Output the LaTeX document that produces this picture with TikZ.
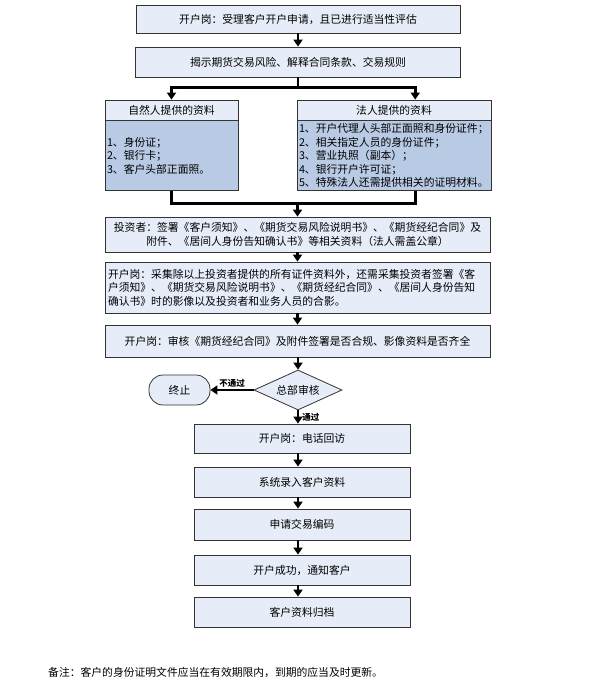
\documentclass[tikz,border=0pt]{standalone}
\usepackage{fontspec}
\setmainfont{Noto Sans CJK SC}
\usetikzlibrary{arrows.meta,shapes.geometric,calc}
\definecolor{boxfill}{HTML}{E6EDF8}
\definecolor{listfill}{HTML}{B9CBE4}
\definecolor{boxline}{HTML}{333333}
\tikzset{
  stepbox/.style={draw=boxline, fill=boxfill, line width=0.8pt, inner sep=2pt},
  listbox/.style={draw=boxline, fill=listfill, line width=0.8pt, inner sep=2pt, align=left},
  flow/.style={line width=2.6pt, -{Triangle[width=9pt,length=7pt]}},
  joinline/.style={line width=2.6pt},
  passlabel/.style={font=\fontsize{8.5}{9}\selectfont\bfseries, inner sep=1pt},
}
\begin{document}
\begin{tikzpicture}[x=1pt, y=-1pt, every node/.style={font=\fontsize{10.8}{13.5}\selectfont}]
\useasboundingbox (0,0) rectangle (591,683);

% upper part
\node[stepbox, minimum width=324pt, minimum height=28pt] (accept) at (298,19) {开户岗：受理客户开户申请，且已进行适当性评估};
\node[stepbox, minimum width=325pt, minimum height=30pt] (reveal) at (298,62) {揭示期货交易风险、解释合同条款、交易规则};

\node[stepbox, minimum width=133pt, minimum height=20pt] (natHead) at (171.5,110) {自然人提供的资料};
\node[listbox, text width=129pt, minimum height=70pt, anchor=north] (natBody) at (natHead.south) {1、身份证；\\2、银行卡；\\3、客户头部正面照。};
\node[stepbox, minimum width=194pt, minimum height=20pt] (legHead) at (394,110) {法人提供的资料};
\node[listbox, text width=190pt, minimum height=70pt, anchor=north] (legBody) at (legHead.south) {1、开户代理人头部正面照和身份证件；\\2、相关指定人员的身份证件；\\3、营业执照（副本）；\\4、银行开户许可证；\\5、特殊法人还需提供相关的证明材料。};

\node[stepbox, minimum width=385pt, minimum height=35pt, align=center] (sign) at (297.5,234.5) {投资者：签署《客户须知》、《期货交易风险说明书》、《期货经纪合同》及\\附件、《居间人身份告知确认书》等相关资料（法人需盖公章）};
\node[stepbox, minimum width=385pt, minimum height=51pt, text width=379pt, align=left] (collect) at (297.5,287.5) {开户岗：采集除以上投资者提供的所有证件资料外，还需采集投资者签署《客\\户须知》、《期货交易风险说明书》、《期货经纪合同》、《居间人身份告知\\确认书》时的影像以及投资者和业务人员的合影。};
\node[stepbox, minimum width=385pt, minimum height=32pt] (check) at (297.5,341) {开户岗：审核《期货经纪合同》及附件签署是否合规、影像资料是否齐全};

% review
\node[diamond, draw=boxline, fill=boxfill, line width=0.8pt, inner sep=0pt, aspect=2.2, minimum width=88pt, minimum height=40pt] (review) at (298,390) {总部审核};
\node[draw=boxline, fill=boxfill, line width=0.8pt, rounded corners=14pt, minimum width=61pt, minimum height=30pt] (stop) at (179.5,390) {终止};

% lower part
\node[stepbox, minimum width=216pt, minimum height=29pt] (call) at (302,438.5) {开户岗：电话回访};
\node[stepbox, minimum width=216pt, minimum height=30pt] (enter) at (302,482) {系统录入客户资料};
\node[stepbox, minimum width=216pt, minimum height=31pt] (code) at (302,524.5) {申请交易编码};
\node[stepbox, minimum width=216pt, minimum height=30pt] (notify) at (302,570) {开户成功，通知客户};
\node[stepbox, minimum width=216pt, minimum height=30pt] (archive) at (302,612) {客户资料归档};

\node[anchor=west, inner sep=0pt] (note) at (48,672) {备注：客户的身份证明文件应当在有效期限内，到期的应当及时更新。};

% connectors
\draw[flow] (accept) -- (reveal);
\coordinate (fork) at ($(reveal.south)+(0,10)$);
\draw[joinline] (reveal.south) -- (fork);
\draw[flow] (fork) -| (natHead.north);
\draw[flow] (fork) -| ($(legHead.north west)!0.609!(legHead.north east)$);
\coordinate (merge) at ($(natBody.south)+(0,12)$);
\draw[joinline] (natBody.south) -- (merge) -| ($(legBody.south west)!0.609!(legBody.south east)$);
\draw[flow] (merge -| sign.north) -- (sign.north);
\draw[flow] (sign) -- (collect);
\draw[flow] (collect) -- (check);
\draw[flow] (check.south -| review.north) -- (review.north);
\draw[flow] (review.west) -- node[passlabel, above] {不通过} (stop.east);
\draw[flow] (review.south) -- node[passlabel, right, xshift=2pt] {通过} (review.south |- call.north);
\draw[flow] (call.south -| review.south) -- (enter.north -| review.south);
\draw[flow] (enter.south -| review.south) -- (code.north -| review.south);
\draw[flow] (code.south -| review.south) -- (notify.north -| review.south);
\draw[flow] (notify.south -| review.south) -- (archive.north -| review.south);
\end{tikzpicture}
\end{document}
